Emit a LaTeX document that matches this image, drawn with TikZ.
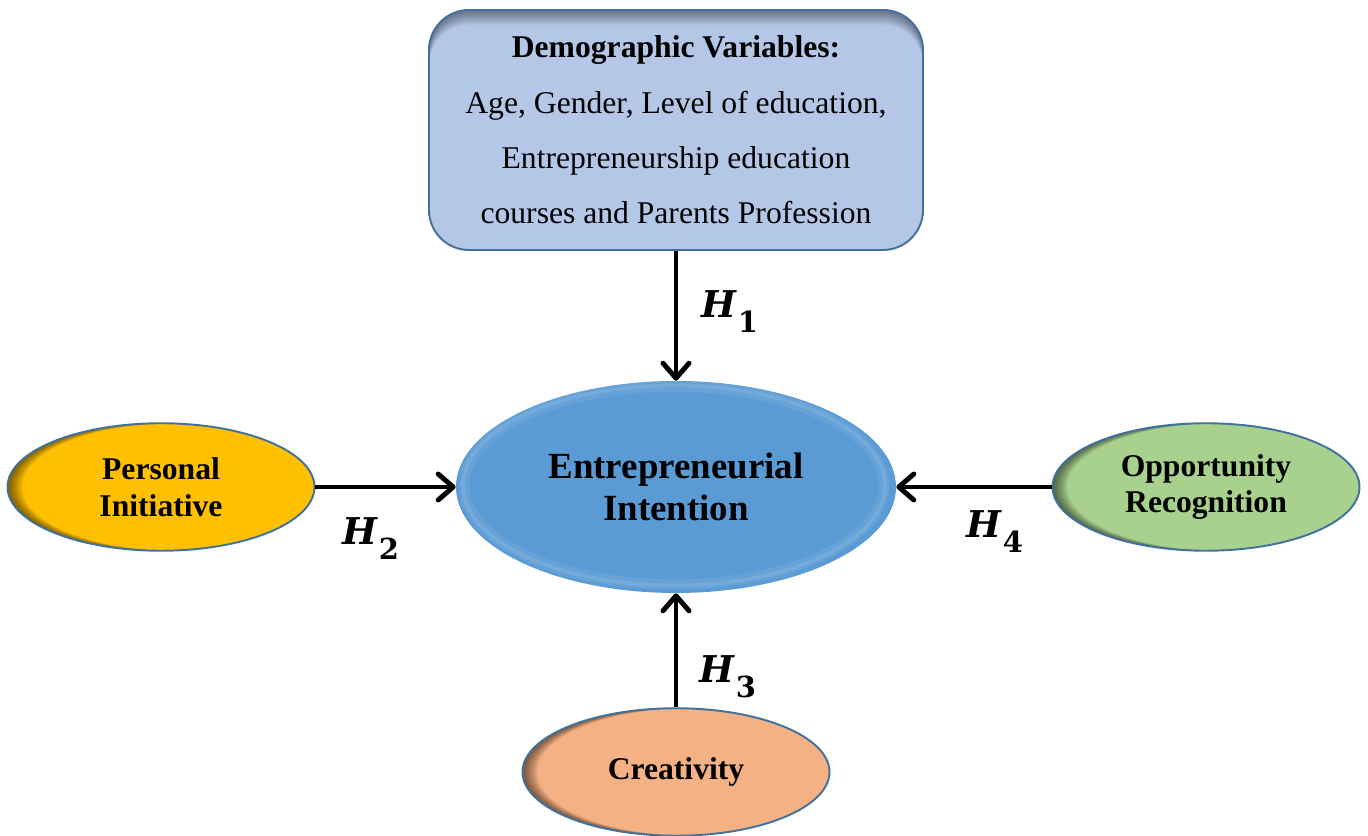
\documentclass[tikz,border=0pt]{standalone}
\usepackage{fontspec}
\setmainfont{Liberation Serif}
\newfontfamily\hypfont{DejaVu Serif}
\usepackage{xcolor}
\usepackage{tikz}
\usetikzlibrary{shapes.geometric,arrows.meta}

\definecolor{rimblue}{HTML}{41719C}
\definecolor{boxblue}{HTML}{B4C7E7}
\definecolor{midblue}{HTML}{5B9BD5}
\definecolor{inityellow}{HTML}{FFC000}
\definecolor{oppgreen}{HTML}{A9D18E}
\definecolor{creaorange}{HTML}{F4B183}

% hypothesis label H_n
\newcommand{\hyp}[1]{{\hypfont\bfseries\itshape H}\kern1pt\raisebox{-8pt}{\hypfont\bfseries\fontsize{16.5}{16.5}\selectfont #1}}

\tikzset{
  factor/.style={ellipse, draw=rimblue, line width=1.1pt, inner sep=0pt,
    minimum width=6.14cm, minimum height=2.55cm, align=center,
    font=\bfseries\fontsize{18}{21}\selectfont,
    path picture={
      \foreach \s in {0.015,0.03,...,0.3}
        \fill[black, opacity=0.03, even odd rule]
          (path picture bounding box.south west) rectangle (path picture bounding box.north east)
          ([xshift=\s cm]path picture bounding box.center) ellipse [x radius=3.07cm, y radius=1.275cm];
    }},
  arr/.style={-{Straight Barb[length=0.3cm,width=0.52cm,round]}, line width=2.8pt},
  hlabel/.style={anchor=base west, inner sep=0pt, font=\fontsize{21}{21}\selectfont}
}

\begin{document}
\begin{tikzpicture}
\useasboundingbox (0,0) rectangle (27.36,16.72);

% demographic box on top
\node[draw=rimblue, fill=boxblue, line width=1.1pt, rounded corners=0.8cm,
  minimum width=9.88cm, minimum height=4.8cm, align=center,
  font=\fontsize{18}{31.5}\selectfont,
  path picture={
    \foreach \s in {0.015,0.03,...,0.3}
      \fill[black, opacity=0.025, even odd rule]
        (path picture bounding box.south west) rectangle (path picture bounding box.north east)
        [rounded corners=0.8cm] ([yshift=-\s cm]path picture bounding box.south west) rectangle ([yshift=-\s cm]path picture bounding box.north east);
  }] (demo) at (13.52,14.12)
  {\textbf{Demographic Variables:}\\Age, Gender, Level of education,\\Entrepreneurship education\\courses and Parents Profession};

% centre
\node[ellipse, fill=midblue, inner sep=0pt, minimum width=8.8cm, minimum height=4.24cm,
  align=center, font=\bfseries\fontsize{21}{24}\selectfont,
  path picture={
    \draw[white, opacity=0.07, line width=6pt] ([xshift=-0.04cm,yshift=0.03cm]path picture bounding box.center) ellipse [x radius=4.2cm, y radius=1.98cm];
    \draw[white, opacity=0.10, line width=2pt] ([xshift=-0.04cm,yshift=0.03cm]path picture bounding box.center) ellipse [x radius=4.22cm, y radius=2.0cm];
  }] (intent) at (13.52,6.98) {Entrepreneurial\\Intention};

% the three factors
\node[factor, fill=inityellow] (initiative) at (3.22,6.98) {Personal\\Initiative};
\node[factor, fill=oppgreen] (opportunity) at (24.12,6.98) {Opportunity\\Recognition};
\node[factor, fill=creaorange] (creativity) at (13.52,1.28) {Creativity};

\draw[arr] (demo) -- (intent);
\draw[arr] (initiative) -- (intent);
\draw[arr] (creativity) -- (intent);
\draw[arr] (opportunity) -- (intent);

\node[hlabel] (h1) at (14.02,10.36) {\hyp{1}};
\node[hlabel] (h2) at (6.84,5.82) {\hyp{2}};
\node[hlabel] (h3) at (13.98,3.06) {\hyp{3}};
\node[hlabel] (h4) at (19.32,5.96) {\hyp{4}};
\end{tikzpicture}
\end{document}
